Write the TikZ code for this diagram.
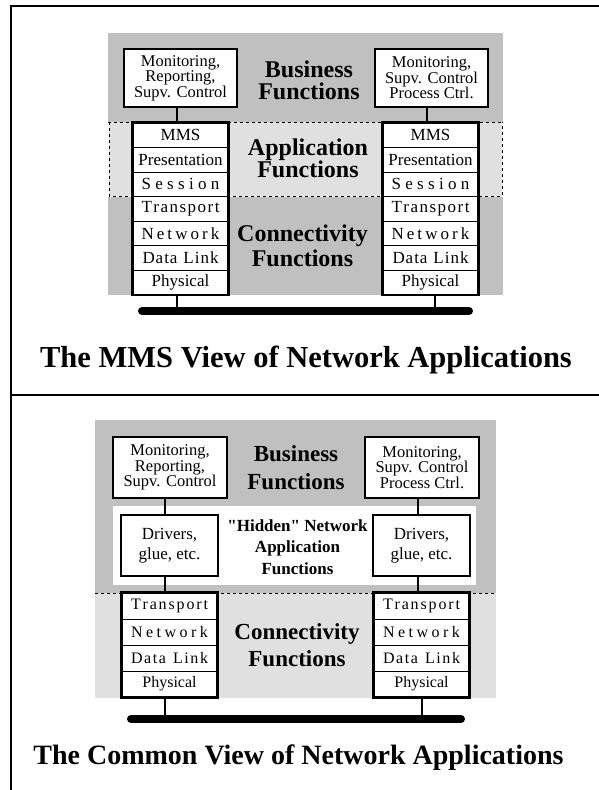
\documentclass[tikz,border=0pt]{standalone}
\usepackage{fontspec}
\setmainfont{Liberation Serif}[Ligatures=TeXOff]
\usetikzlibrary{calc}
\definecolor{bizgray}{HTML}{C0C0C0}
\definecolor{appgray}{HTML}{E0E0E0}
\newcommand{\spr}[2]{\makebox[#1][s]{#2}}
\begin{document}
\begin{tikzpicture}[x=1pt,y=-1pt,
  bizbox/.style={draw, line width=2.2pt, fill=white, inner sep=0pt, align=center,
    font=\fontsize{16.5}{15.5}\selectfont, minimum width=113pt, minimum height=58pt},
  layerA/.style={draw, line width=0.8pt, fill=white, inner sep=0pt,
    minimum width=95pt, minimum height=24.5pt, font=\fontsize{17}{17}\selectfont},
  layerB/.style={draw, line width=0.8pt, fill=white, inner sep=0pt,
    minimum width=95pt, minimum height=26pt, font=\fontsize{16}{16}\selectfont},
  stackframe/.style={draw, line width=2.5pt},
  conn/.style={draw, line width=2.2pt},
  bus/.style={draw, line width=8pt, line cap=round},
  heading/.style={font=\bfseries\fontsize{24}{22}\selectfont, align=center, inner sep=0pt},
  title/.style={font=\bfseries\fontsize{30.5}{30}\selectfont, inner sep=0pt},
  frameline/.style={draw, line width=2pt}
]
\useasboundingbox (0,0) rectangle (599,790);
% outer frame
\coordinate (fTL) at (11,6);
\coordinate (fTR) at (599,6);
\coordinate (fBL) at (11,790);
\coordinate (dL) at (11,395);
\coordinate (dR) at (599,395);
\draw[frameline] (fTR) -- (fTL) -- (fBL);
\draw[frameline] (dL) -- (dR);

%%%%%%%%%%%%%%%% TOP PANEL
\fill[bizgray] (108,33) rectangle (503,122);
\fill[appgray] (109,122) rectangle (502,196);
\draw[dashed, line width=0.6pt] (108,122) -- (503,122);
\draw[dashed, line width=0.6pt] (109,122) -- (109,196) -- (502,196) -- (502,122);
\fill[bizgray] (108,196.5) rectangle (503,295);

\node[bizbox] (bizA1) at (180.5,78) {Monitoring,\\Reporting,\\Supv. Control};
\node[bizbox] (bizA2) at (431.5,78) {Monitoring,\\Supv. Control\\Process Ctrl.};

\node[heading] (hA1) at (309,80) {Business\\Functions};
\node[heading] (hA2) at (308,158) {Application\\Functions};
\node[heading, font=\bfseries\fontsize{24}{25}\selectfont] (hA3) at (302.5,246) {Connectivity\\Functions};

% left stack
\node[layerA] (a1) at (180.5,135.25) {MMS};
\node[layerA] (a2) at (180.5,159.75) {Presentation};
\node[layerA] (a3) at (180.5,184.25) {\spr{78pt}{S\hfil e\hfil s\hfil s\hfil i\hfil o\hfil n}};
\node[layerA] (a4) at (180.5,208.75) {\spr{78pt}{T\hfil r\hfil a\hfil n\hfil s\hfil p\hfil o\hfil r\hfil t}};
\node[layerA] (a5) at (180.5,233.25) {\spr{78pt}{N\hfil e\hfil t\hfil w\hfil o\hfil r\hfil k}};
\node[layerA] (a6) at (180.5,257.75) {\spr{76pt}{D\hfil a\hfil t\hfil a\hfil\hspace{4pt}\hfil L\hfil i\hfil n\hfil k}};
\node[layerA] (a7) at (180.5,282.25) {Physical};
\draw[stackframe] (a1.north west) rectangle (a7.south east);
% right stack
\node[layerA] (b1) at (430.5,135.25) {MMS};
\node[layerA] (b2) at (430.5,159.75) {Presentation};
\node[layerA] (b3) at (430.5,184.25) {\spr{78pt}{S\hfil e\hfil s\hfil s\hfil i\hfil o\hfil n}};
\node[layerA] (b4) at (430.5,208.75) {\spr{78pt}{T\hfil r\hfil a\hfil n\hfil s\hfil p\hfil o\hfil r\hfil t}};
\node[layerA] (b5) at (430.5,233.25) {\spr{78pt}{N\hfil e\hfil t\hfil w\hfil o\hfil r\hfil k}};
\node[layerA] (b6) at (430.5,257.75) {\spr{76pt}{D\hfil a\hfil t\hfil a\hfil\hspace{4pt}\hfil L\hfil i\hfil n\hfil k}};
\node[layerA] (b7) at (430.5,282.25) {Physical};
\draw[stackframe] (b1.north west) rectangle (b7.south east);

\coordinate (cA1) at (177,0);
\coordinate (cA2) at (427,0);
\draw[conn] (bizA1.south -| cA1) -- (a1.north -| cA1);
\draw[conn] (bizA2.south -| cA2) -- (b1.north -| cA2);

\coordinate (busA1) at (142,311);
\coordinate (busA2) at (469,311);
\coordinate (tapA1) at (177,311);
\coordinate (tapA2) at (435,311);
\draw[conn] (a7.south -| tapA1) -- (tapA1);
\draw[conn] (b7.south -| tapA2) -- (tapA2);
\draw[bus] (busA1) -- (busA2);

\node[title] (tA) at (306,360) {The MMS View of Network Applications};

%%%%%%%%%%%%%%%% BOTTOM PANEL
\fill[bizgray] (95,420) rectangle (496,593);
\fill[white] (113,506) rectangle (476,585);
\fill[appgray] (95,593) rectangle (496,698);
\draw[dashed, line width=0.6pt] (95,593) -- (496,593);

\node[bizbox, minimum width=114pt, minimum height=61pt] (bizB1) at (170,467.5) {Monitoring,\\Reporting,\\Supv. Control};
\node[bizbox, minimum width=114pt, minimum height=61pt] (bizB2) at (422,467.5) {Monitoring,\\Supv. Control\\Process Ctrl.};

\node[bizbox, minimum width=97pt, minimum height=61pt, font=\fontsize{17}{20}\selectfont] (drvB1) at (169.5,545.5) {Drivers,\\glue, etc.};
\node[bizbox, minimum width=97pt, minimum height=61pt, font=\fontsize{17}{20}\selectfont] (drvB2) at (421.5,545.5) {Drivers,\\glue, etc.};

\node[heading, font=\bfseries\fontsize{23}{28}\selectfont] (hB1) at (296,468) {Business\\Functions};
\node[heading, font=\bfseries\fontsize{17}{21.5}\selectfont] (hB2) at (297.5,547) {"Hidden" Network\\Application\\Functions};
\node[heading, font=\bfseries\fontsize{23}{27}\selectfont] (hB3) at (297,645) {Connectivity\\Functions};

% left stack
\node[layerB] (c1) at (169.5,606) {\spr{77pt}{T\hfil r\hfil a\hfil n\hfil s\hfil p\hfil o\hfil r\hfil t}};
\node[layerB] (c2) at (169.5,632) {\spr{77pt}{N\hfil e\hfil t\hfil w\hfil o\hfil r\hfil k}};
\node[layerB] (c3) at (169.5,658) {\spr{77pt}{D\hfil a\hfil t\hfil a\hfil\hspace{4pt}\hfil L\hfil i\hfil n\hfil k}};
\node[layerB] (c4) at (169.5,684) {Physical};
\draw[stackframe] (c1.north west) rectangle (c4.south east);
% right stack
\node[layerB] (d1) at (421.5,606) {\spr{77pt}{T\hfil r\hfil a\hfil n\hfil s\hfil p\hfil o\hfil r\hfil t}};
\node[layerB] (d2) at (421.5,632) {\spr{77pt}{N\hfil e\hfil t\hfil w\hfil o\hfil r\hfil k}};
\node[layerB] (d3) at (421.5,658) {\spr{77pt}{D\hfil a\hfil t\hfil a\hfil\hspace{4pt}\hfil L\hfil i\hfil n\hfil k}};
\node[layerB] (d4) at (421.5,684) {Physical};
\draw[stackframe] (d1.north west) rectangle (d4.south east);

\coordinate (cB1) at (165,0);
\coordinate (cB2) at (418,0);
\draw[conn] (bizB1.south -| cB1) -- (drvB1.north -| cB1);
\draw[conn] (bizB2.south -| cB2) -- (drvB2.north -| cB2);
\draw[conn] (drvB1.south -| cB1) -- (c1.north -| cB1);
\draw[conn] (drvB2.south -| cB2) -- (d1.north -| cB2);

\coordinate (busB1) at (131,719);
\coordinate (busB2) at (461,719);
\coordinate (tapB1) at (165,719);
\coordinate (tapB2) at (422,719);
\draw[conn] (c4.south -| tapB1) -- (tapB1);
\draw[conn] (d4.south -| tapB2) -- (tapB2);
\draw[bus] (busB1) -- (busB2);

\node[title, font=\bfseries\fontsize{28}{28}\selectfont] (tB) at (298.5,758) {The Common View of Network Applications};
\end{tikzpicture}
\end{document}
